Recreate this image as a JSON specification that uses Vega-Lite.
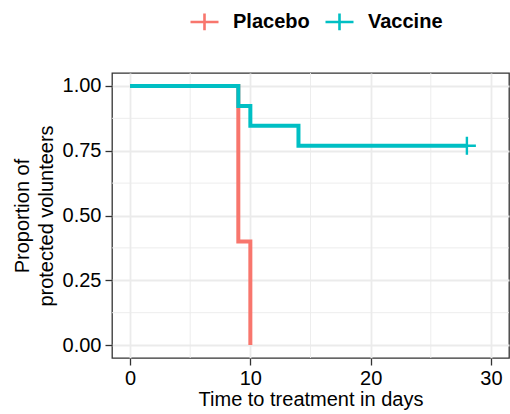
{
  "$schema": "https://vega.github.io/schema/vega-lite/v6.json",
  "width": 397,
  "height": 285,
  "autosize": "none",
  "padding": {"left": 112, "top": 73, "right": 1, "bottom": 56},
  "background": "white",
  "config": {
    "font": "Liberation Sans",
    "view": {"stroke": "#333333", "strokeWidth": 1.3},
    "axis": {
      "domain": false,
      "grid": true,
      "gridColor": "#EBEBEB",
      "gridWidth": 1.8,
      "tickColor": "#333333",
      "tickWidth": 1.3,
      "tickSize": 7,
      "labelColor": "#000000",
      "labelFontSize": 20,
      "labelPadding": 3,
      "titleColor": "#000000",
      "titleFontSize": 20,
      "titleFontWeight": "normal"
    },
    "legend": {"padding": 0}
  },
  "datasets": {
    "curves": [
      {"time": 0, "surv": 1.0, "group": "Placebo"},
      {"time": 9, "surv": 0.4, "group": "Placebo"},
      {"time": 10, "surv": 0.0, "group": "Placebo"},
      {"time": 0, "surv": 1.0, "group": "Vaccine"},
      {"time": 9, "surv": 0.923, "group": "Vaccine"},
      {"time": 10, "surv": 0.846, "group": "Vaccine"},
      {"time": 14, "surv": 0.769, "group": "Vaccine"},
      {"time": 28, "surv": 0.769, "group": "Vaccine"}
    ],
    "censor": [
      {"time": 28, "surv": 0.769, "group": "Vaccine"}
    ],
    "minorx": [{"time": 5}, {"time": 15}, {"time": 25}],
    "minory": [{"surv": 0.125}, {"surv": 0.375}, {"surv": 0.625}, {"surv": 0.875}]
  },
  "layer": [
    {
      "data": {"name": "minorx"},
      "mark": {"type": "rule", "color": "#EBEBEB", "strokeWidth": 0.9},
      "encoding": {
        "x": {"field": "time", "type": "quantitative", "scale": {"domain": [-1.5, 31.5], "nice": false, "zero": false}}
      }
    },
    {
      "data": {"name": "minory"},
      "mark": {"type": "rule", "color": "#EBEBEB", "strokeWidth": 0.9},
      "encoding": {
        "y": {"field": "surv", "type": "quantitative", "scale": {"domain": [-0.05, 1.05], "nice": false, "zero": false}}
      }
    },
    {
      "data": {"name": "curves"},
      "mark": {"type": "line", "interpolate": "step-after", "strokeWidth": 4},
      "encoding": {
        "x": {
          "field": "time", "type": "quantitative",
          "scale": {"domain": [-1.5, 31.5], "nice": false, "zero": false},
          "axis": {"values": [0, 10, 20, 30], "title": "Time to treatment in days", "titlePadding": 1}
        },
        "y": {
          "field": "surv", "type": "quantitative",
          "scale": {"domain": [-0.05, 1.05], "nice": false, "zero": false},
          "axis": {"values": [0, 0.25, 0.5, 0.75, 1], "format": ".2f", "labelPadding": 4, "title": ["Proportion of", "protected volunteers"], "titleLineHeight": 24, "titlePadding": 6}
        },
        "color": {
          "field": "group", "type": "nominal",
          "scale": {"domain": ["Placebo", "Vaccine"], "range": ["#F8766D", "#00BFC4"]},
          "legend": {
            "title": null,
            "orient": "none",
            "direction": "horizontal",
            "legendX": 77,
            "legendY": -67,
            "symbolType": "M-1,0H1M0,-0.6V0.6",
            "symbolSize": 784,
            "symbolStrokeWidth": 2.6,
            "symbolFillColor": "transparent",
            "labelFontSize": 20,
            "labelFontWeight": "bold",
            "labelColor": "#000000",
            "labelOffset": 13,
            "columnPadding": 10
          }
        }
      }
    },
    {
      "data": {"name": "censor"},
      "mark": {"type": "point", "shape": "M-1,0H1M0,-1V1", "size": 324, "strokeWidth": 2.4, "color": "#00BFC4", "filled": false, "opacity": 1},
      "encoding": {
        "x": {"field": "time", "type": "quantitative"},
        "y": {"field": "surv", "type": "quantitative"}
      }
    }
  ]
}
